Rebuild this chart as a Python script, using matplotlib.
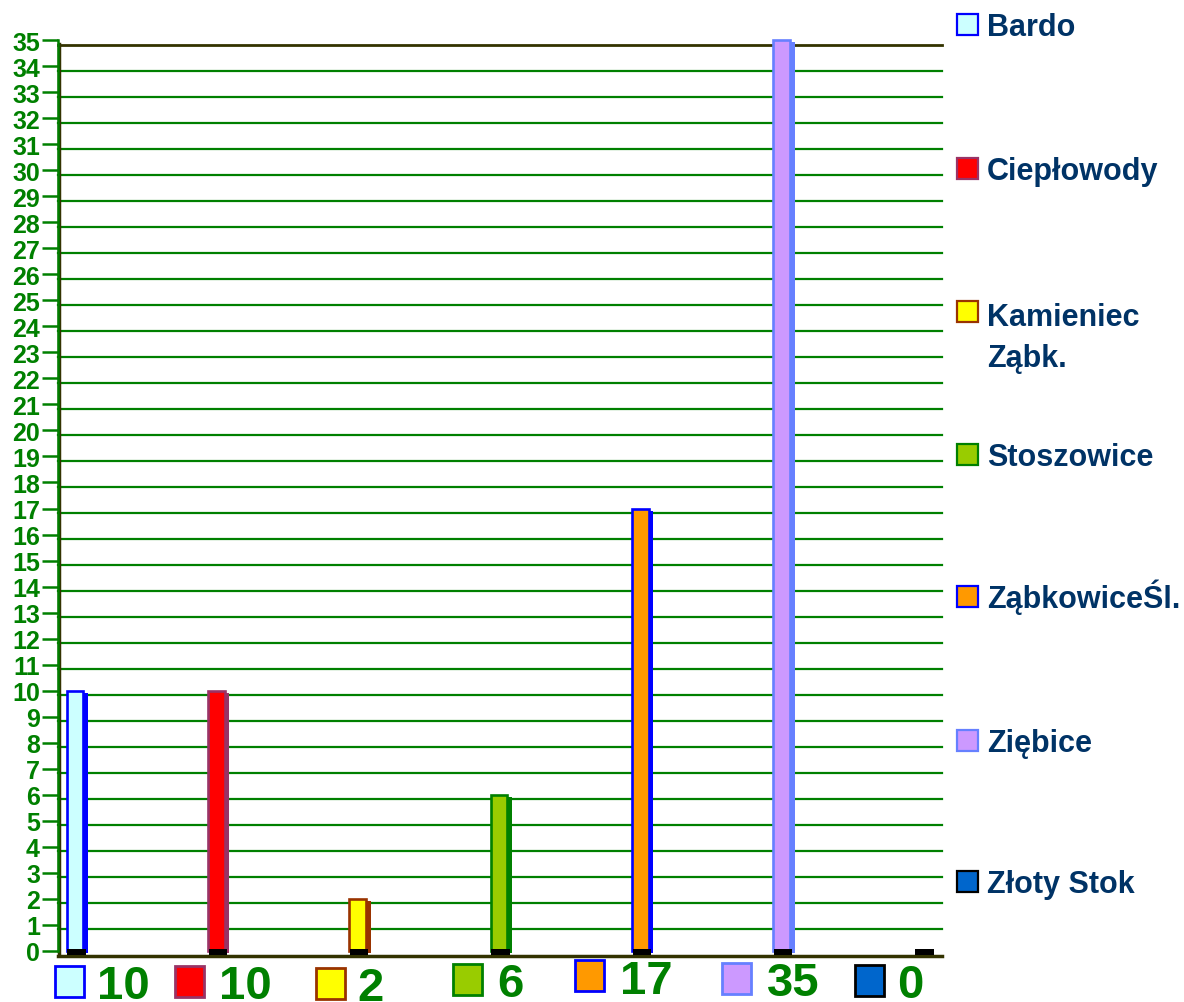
import matplotlib.pyplot as plt
import matplotlib.transforms as mtransforms
from matplotlib.patches import Rectangle

plt.rcParams['font.family'] = ['Liberation Sans', 'DejaVu Sans']
plt.rcParams['font.weight'] = 'bold'

# data
gminy = ['Bardo', 'Ciepłowody', 'Kamieniec\nZąbk.', 'Stoszowice',
         'ZąbkowiceŚl.', 'Ziębice', 'Złoty Stok']
wartosci = [10, 10, 2, 6, 17, 35, 0]
kolory = ['#CCFFFF', '#FF0000', '#FFFF00', '#99CC00', '#FF9900', '#CC99FF', '#0066CC']
obwodki = ['#0000FF', '#993366', '#993300', '#008000', '#0000FF', '#6680FF', '#000000']
y_ticks = list(range(0, 36))

W, H = 1184, 1003
GREEN = '#008000'
DARK = '#333300'
NAVY = '#003366'


def px(x, y):
    # pixel (from top-left) -> figure fraction
    return x / W, 1 - y / H


fig = plt.figure(figsize=(W / 100, H / 100), dpi=100)
ax = fig.add_axes([58 / W, 1 - 952 / H, (942 - 58) / W, (952 - 41) / H])
ax.set_ylim(0, 35)
x = list(range(len(wartosci)))
x0, x1 = -17 / 141.33, 6 + 19 / 141.33
ax.set_xlim(x0, x1)

# back wall grid, shifted a bit down (fake 3D)
back = mtransforms.offset_copy(ax.transData, fig=fig, x=0, y=-4.5, units='dots')
for v in y_ticks:
    if v == 0:
        ax.plot([x0, x1], [v, v], color=DARK, lw=2.5, transform=back, clip_on=False, zorder=1)
    elif v == 35:
        ax.plot([x0, x1], [v, v], color=DARK, lw=2, transform=back, clip_on=False, zorder=1)
    else:
        ax.plot([x0, x1], [v, v], color=GREEN, lw=1.6, transform=back, clip_on=False, zorder=1)

# y axis: green spine + dark wall edge
ax.plot([x0, x0], [0, 35], color=DARK, lw=2.5, clip_on=False, zorder=2,
        transform=mtransforms.offset_copy(ax.transData, fig=fig, x=1.5, y=-4, units='dots'))
for s in ['top', 'right', 'bottom']:
    ax.spines[s].set_visible(False)
ax.spines['left'].set_color(GREEN)
ax.spines['left'].set_linewidth(1.8)

# bars: side face, front face, black bottom
side_tr = mtransforms.offset_copy(ax.transData, fig=fig, x=0, y=-2, units='dots')
side = ax.bar([xi + 0.06 + 0.016 for xi in x], wartosci, 0.032, color=obwodki, zorder=3)
for p in side:
    p.set_transform(side_tr)
    p.set_clip_on(False)
ax.bar(x, wartosci, 0.12, color=kolory, edgecolor=obwodki, linewidth=1.9, zorder=4,
       clip_on=False)
base_tr = mtransforms.offset_copy(ax.transData, fig=fig, x=1.5, y=-3.5, units='dots')
base = ax.bar(x, [0.2] * len(x), 0.13, color='black', zorder=5)
for p in base:
    p.set_transform(base_tr)
    p.set_clip_on(False)

ax.set_xticks([])
ax.set_yticks(y_ticks)
ax.tick_params(axis='y', length=11.5, width=1.8, color=GREEN, labelcolor=GREEN,
               labelsize=18, pad=1.5)
ax.set_facecolor('none')

# legend on the right
leg_base = [36, 180, 323, 466, 608, 752, 893]
for g, c, e, yb in zip(gminy, kolory, obwodki, leg_base):
    fx, fy = px(957, yb)
    fig.add_artist(Rectangle((fx, fy), 21 / W, 21 / H, transform=fig.transFigure,
                             facecolor=c, edgecolor=e, lw=1.6))
    # multi-line text: baseline goes to the last line
    last = yb + 44 * g.count('\n')
    fig.text(987 / W, 1 - last / H, g, color=NAVY, fontsize=22, fontweight='bold',
             ha='left', va='baseline', linespacing=1.5)

# value labels under the bars
sq_x = [55, 175, 316, 453, 575, 722, 855]
sq_y = [967, 967, 969, 965, 961, 964, 966]
txt_x = [97, 219, 357, 497, 620, 767, 897]
txt_b = [999, 999, 1001, 997, 994, 996, 998]
for v, c, e, sx, sy, tx, tb in zip(wartosci, kolory, obwodki, sq_x, sq_y, txt_x, txt_b):
    fx, fy = px(sx, sy + 31)
    fig.add_artist(Rectangle((fx, fy), 29 / W, 31 / H, transform=fig.transFigure,
                             facecolor=c, edgecolor=e, lw=2))
    fig.text(tx / W, 1 - tb / H, str(v), color=GREEN, fontsize=34, fontweight='bold',
             ha='left', va='baseline')

fig.savefig('out.png', dpi=100)
